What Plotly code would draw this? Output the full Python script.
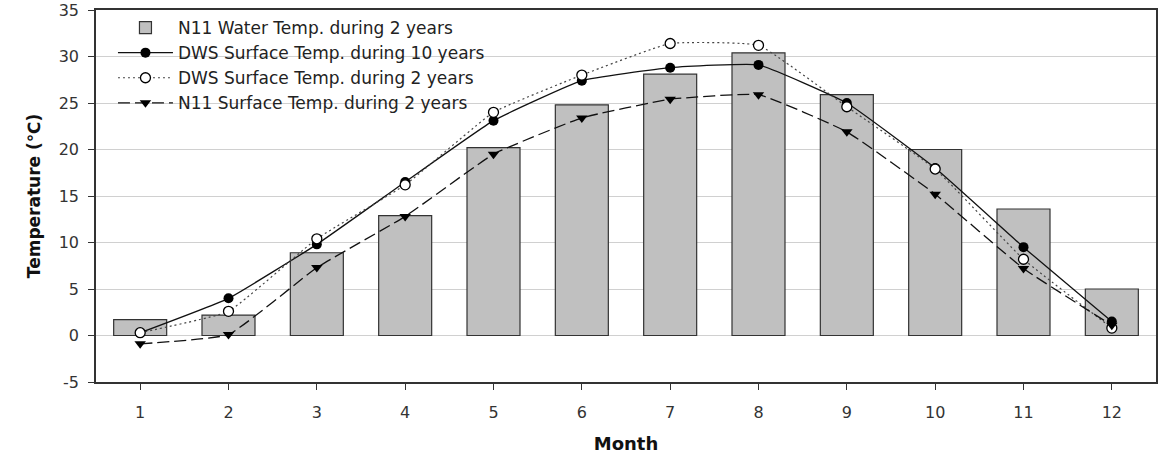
import plotly.graph_objects as go

months = list(range(1, 13))
n11_water = [1.7, 2.2, 8.9, 12.9, 20.2, 24.8, 28.1, 30.4, 25.9, 20.0, 13.6, 5.0]
dws_10yr = [0.3, 4.0, 9.8, 16.5, 23.1, 27.4, 28.8, 29.1, 25.0, 18.0, 9.5, 1.5]
dws_2yr = [0.3, 2.6, 10.4, 16.2, 24.0, 28.0, 31.4, 31.2, 24.6, 17.9, 8.2, 0.8]
n11_surface = [-0.9, 0.1, 7.3, 12.8, 19.5, 23.4, 25.4, 25.9, 21.9, 15.2, 7.2, 1.1]
y_ticks = [-5, 0, 5, 10, 15, 20, 25, 30, 35]
y_ticktext = ["-5", "0", "5", "10", "15", "20", "25", "30", "35"]

fig = go.Figure()
fig.add_trace(go.Bar(
    x=months, y=n11_water, name="N11 Water Temp. during 2 years",
    width=0.6, marker=dict(color="#c0c0c0", line=dict(color="#333333", width=1.2))))
fig.add_trace(go.Scatter(
    x=months, y=dws_10yr, name="DWS Surface Temp. during 10 years",
    mode="lines+markers", line=dict(color="#111111", width=1.3, shape="spline", smoothing=0.35),
    marker=dict(symbol="circle", size=10, color="#000000")))
fig.add_trace(go.Scatter(
    x=months, y=dws_2yr, name="DWS Surface Temp. during 2 years",
    mode="lines+markers", line=dict(color="#444444", width=1.2, dash="2px,3px", shape="spline", smoothing=0.35),
    marker=dict(symbol="circle", size=10, color="#ffffff", line=dict(color="#000000", width=1.3))))
fig.add_trace(go.Scatter(
    x=months, y=n11_surface, name="N11 Surface Temp. during 2 years",
    mode="lines+markers", line=dict(color="#111111", width=1.3, dash="12px,5px", shape="spline", smoothing=0.35),
    marker=dict(symbol="triangle-down", size=10, color="#000000")))

tick_font = dict(family="DejaVu Sans, sans-serif", size=16, color="#333333")
fig.update_layout(
    width=1158, height=454,
    margin=dict(l=96, r=2, t=10, b=72, autoexpand=False),
    plot_bgcolor="white", paper_bgcolor="white",
    font=dict(family="DejaVu Sans, sans-serif", color="#222222"),
    showlegend=True,
    legend=dict(x=0.016, y=1.0, xanchor="left", yanchor="top",
                bgcolor="rgba(0,0,0,0)", font=dict(size=17, color="#222222"),
                itemwidth=55, tracegroupgap=0, traceorder="normal"),
    xaxis=dict(range=[0.5, 12.5], tickvals=months, ticks="outside", ticklen=6,
               tickcolor="#333333", showgrid=False, showline=True, linecolor="#333333",
               linewidth=1.5, mirror=True, tickfont=tick_font, ticklabelstandoff=9,
               automargin=False,
               title=dict(text="<b>Month</b>", font=dict(size=18, color="#111111"), standoff=20)),
    yaxis=dict(range=[-5, 35.001], tickvals=y_ticks, ticktext=y_ticktext, ticks="outside", ticklen=6,
               tickcolor="#333333", showgrid=True, gridcolor="#d0d0d0", gridwidth=1.3,
               zeroline=False, showline=True, linecolor="#333333", linewidth=1.5,
               mirror=True, tickfont=tick_font, ticklabelstandoff=6, ticklabeloverflow="allow",
               automargin=False,
               title=dict(text="<b>Temperature (℃)</b>", font=dict(size=17, color="#111111"), standoff=14)),
)
fig.write_html("out.html")
